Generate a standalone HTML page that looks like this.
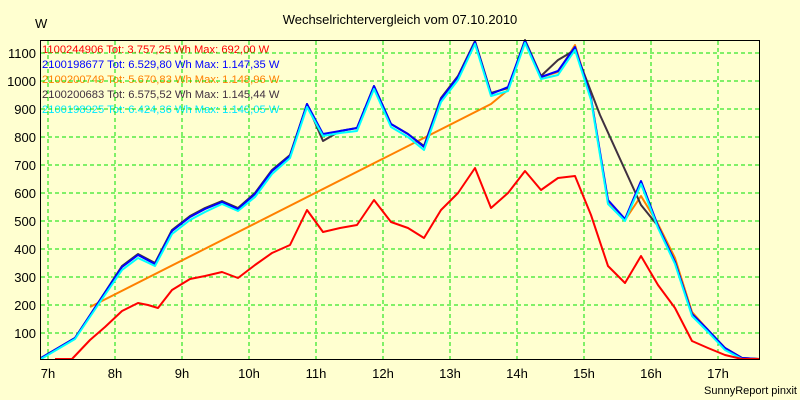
<!DOCTYPE html>
<html><head><style>body{margin:0;background:#ffffd0}svg{display:block}text{font-family:"Liberation Sans",sans-serif}</style></head><body>
<svg width="800" height="400" xmlns="http://www.w3.org/2000/svg">
<rect width="800" height="400" fill="#ffffd0"/>
<text x="400" y="24" font-size="13" text-anchor="middle">Wechselrichtervergleich vom 07.10.2010</text>
<text x="35" y="28" font-size="13">W</text>
<g font-size="11.2">
<text x="42" y="53" fill="#ff0000">1100244906 Tot: 3.757,25 Wh Max: 692,00 W</text>
<text x="42" y="68" fill="#0000ff">2100198677 Tot: 6.529,80 Wh Max: 1.147,35 W</text>
<text x="42" y="83" fill="#ff8000">2100200749 Tot: 5.670,83 Wh Max: 1.148,96 W</text>
<text x="42" y="98" fill="#403040">2100200683 Tot: 6.575,52 Wh Max: 1.145,44 W</text>
<text x="42" y="113" fill="#00e8ff">2100198925 Tot: 6.424,36 Wh Max: 1.140,05 W</text>
</g>
<g stroke="#00e000" stroke-dasharray="4,3" stroke-width="1">
<line x1="41" x2="759" y1="53" y2="53"/><line x1="41" x2="759" y1="81" y2="81"/><line x1="41" x2="759" y1="109" y2="109"/><line x1="41" x2="759" y1="137" y2="137"/><line x1="41" x2="759" y1="165" y2="165"/><line x1="41" x2="759" y1="193" y2="193"/><line x1="41" x2="759" y1="221" y2="221"/><line x1="41" x2="759" y1="249" y2="249"/><line x1="41" x2="759" y1="277" y2="277"/><line x1="41" x2="759" y1="305" y2="305"/><line x1="41" x2="759" y1="333" y2="333"/>
<line y1="41" y2="359" x1="48" x2="48"/><line y1="41" y2="359" x1="115" x2="115"/><line y1="41" y2="359" x1="182" x2="182"/><line y1="41" y2="359" x1="249" x2="249"/><line y1="41" y2="359" x1="316" x2="316"/><line y1="41" y2="359" x1="383" x2="383"/><line y1="41" y2="359" x1="450" x2="450"/><line y1="41" y2="359" x1="517" x2="517"/><line y1="41" y2="359" x1="584" x2="584"/><line y1="41" y2="359" x1="651" x2="651"/><line y1="41" y2="359" x1="718" x2="718"/>
</g>
<g font-size="13" text-anchor="end">
<text x="36" y="58">1100</text><text x="36" y="86">1000</text><text x="36" y="114">900</text><text x="36" y="142">800</text><text x="36" y="170">700</text><text x="36" y="198">600</text><text x="36" y="226">500</text><text x="36" y="254">400</text><text x="36" y="282">300</text><text x="36" y="310">200</text><text x="36" y="338">100</text>
</g>
<g font-size="13" text-anchor="middle">
<text x="48" y="378">7h</text><text x="115" y="378">8h</text><text x="182" y="378">9h</text><text x="249" y="378">10h</text><text x="316" y="378">11h</text><text x="383" y="378">12h</text><text x="450" y="378">13h</text><text x="517" y="378">14h</text><text x="584" y="378">15h</text><text x="651" y="378">16h</text><text x="718" y="378">17h</text>
</g>
<text x="797" y="394" font-size="11" text-anchor="end">SunnyReport pinxit</text>
<g fill="none" stroke-width="2" stroke-linejoin="round">
<polyline stroke="#ff8000" points="90,307 491,104 508,90 525,41 541,77 558,72 575,45 591,98 608,203 625,220 641,196 658,224 675,258 692,312 708,330 725,348 742,358 759,359"/>
<polyline stroke="#403040" points="41,358 75,338 100,300 122,266 138,254 155,263 172,230 190,216 205,208 222,201 238,208 255,193 272,170 290,155 307,104 323,141 340,131 357,128 374,86 391,124 408,134 424,146 441,98 458,76 475,41 491,93 508,88 525,40 541,76 558,60 575,50 600,115 641,205 658,226 675,262 692,314 708,330 725,348 742,358 759,359"/>
<polyline stroke="#0000ff" points="41,358 75,338 100,300 122,267 138,255 155,264 172,231 190,217 205,209 222,202 238,209 255,194 272,171 290,156 307,104 323,134 340,131 357,128 374,86 391,124 408,134 424,147 441,99 458,77 475,42 491,94 508,87 525,41 541,77 558,71 575,47 591,98 608,200 625,219 641,181 658,226 675,262 692,314 708,330 725,348 742,358 759,359"/>
<polyline stroke="#00ffff" points="41,359 75,339 100,302 122,270 138,258 155,266 172,234 190,220 205,212 222,204 238,211 255,197 272,174 290,158 307,107 323,136 340,133 357,131 374,89 391,127 408,137 424,150 441,102 458,80 475,44 491,96 508,91 525,43 541,79 558,75 575,50 591,100 608,204 625,221 641,184 658,228 675,264 692,316 708,332 725,350 742,359 759,359"/>
<polyline stroke="#ff0000" points="55,359 72,359 90,340 105,327 122,311 138,303 148,305 158,308 172,290 190,279 205,276 222,272 238,278 255,265 272,253 290,245 307,210 323,232 340,228 357,225 374,200 391,222 408,228 424,238 441,210 458,193 475,168 491,208 508,193 525,171 541,190 558,178 575,176 591,215 608,266 625,283 641,256 658,285 675,308 692,341 708,348 725,355 742,359 759,359"/>
</g>
<rect x="40.5" y="40.5" width="719" height="319" fill="none" stroke="#000" stroke-width="1"/>
</svg>
</body></html>
